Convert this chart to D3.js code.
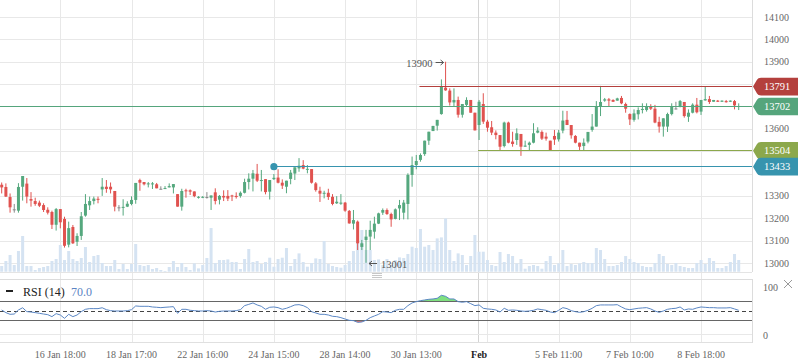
<!DOCTYPE html>
<html><head><meta charset="utf-8">
<script src="https://cdn.jsdelivr.net/npm/d3@7"></script>
<style>body{margin:0;background:#fff}svg{display:block}text{font-family:"Liberation Serif","Times New Roman",serif}</style>
</head><body><svg id="c" width="798" height="363"></svg>
<script>
// ---- data (one entry per candle, index 0..176) ----
const open=[13350,13340,13295,13240,13234,13341,13355,13286,13277,13270,13259,13238,13228,13171,13241,13197,13082,13161,13095,13121,13212,13258,13277,13287,13329,13341,13341,13322,13249,13248,13252,13264,13282,13371,13362,13352,13352,13352,13332,13332,13338,13338,13308,13252,13325,
13325,13320,13293,13293,13295,13292,13316,13283,13300,13300,13302,13300,13300,13314,13362,13377,13399,13368,13375,
13319,13375,13382,13359,13341,13376,13400,13423,13438,13418,13420,13356,13323,13310,13314,13296,13267,13265,13270,13233,13176,13185,13072,13103,13118,13140,13176,13225,13237,13219,13197,13244,13225,13264,13394,13438,13461,13487,
13547,13590,13614,13666,13784,13771,13718,13729,13663,13707,13729,13672,13617,13711,13632,13607,13583,13572,13523,13628,13543,13550,13577,13520,13528,13538,13583,13586,13565,13547,13568,13553,
13592,13640,13617,13568,13538,13523,13543,13595,13610,13702,13726,13732,13729,13726,13738,13711,13666,13640,13665,13684,13684,13702,13690,13631,13610,13610,13666,13691,13699,13720,13654,13672,13708,13677,13727,13733,13721,13726,13721,13724,13721,13724,13698];
const high=[13360,13356,13311,13264,13357,13389,13380,13317,13292,13279,13267,13249,13234,13246,13241,13207,13185,13170,13133,13228,13308,13297,13297,13297,13380,13371,13360,13322,13259,13285,13276,13298,13358,13377,13362,13362,13362,13358,13343,13344,13356,13353,13308,13332,13332,
13329,13320,13299,13299,13317,13302,13334,13304,13325,13326,13305,13316,13320,13377,13401,13416,13443,13416,13375,
13371,13398,13419,13374,13368,13416,13428,13469,13460,13438,13420,13362,13341,13323,13332,13308,13299,13308,13273,13237,13237,13190,13103,13148,13189,13207,13225,13244,13244,13225,13244,13282,13282,13401,13476,13483,13490,13547,
13587,13613,13640,13821,13900,13781,13781,13744,13711,13741,13729,13672,13729,13759,13640,13635,13593,13572,13632,13632,13587,13602,13577,13547,13543,13625,13607,13593,13583,13547,13595,13595,
13681,13680,13617,13572,13538,13557,13586,13666,13724,13792,13738,13738,13732,13739,13747,13717,13669,13687,13696,13714,13714,13710,13707,13654,13647,13672,13714,13721,13729,13720,13687,13714,13738,13729,13791,13747,13729,13729,13727,13729,13727,13729,13714];
const low=[13311,13295,13225,13225,13225,13279,13267,13252,13256,13250,13228,13217,13152,13145,13155,13069,13070,13085,13076,13103,13207,13237,13262,13267,13300,13314,13311,13231,13231,13212,13250,13258,13265,13323,13347,13338,13331,13334,13329,13331,13338,13311,13252,13234,13292,
13304,13294,13288,13290,13288,13237,13262,13262,13277,13277,13277,13288,13292,13311,13329,13320,13362,13320,13307,
13284,13371,13356,13331,13312,13352,13371,13408,13419,13401,13355,13319,13273,13289,13282,13258,13264,13260,13229,13176,13150,13058,13058,13001,13058,13109,13174,13215,13215,13162,13195,13192,13195,13195,13341,13419,13453,13479,
13528,13590,13592,13663,13770,13704,13699,13650,13650,13699,13672,13593,13550,13622,13587,13572,13553,13505,13517,13535,13520,13528,13479,13520,13505,13535,13580,13550,13547,13505,13528,13543,
13580,13617,13556,13535,13505,13505,13535,13587,13610,13657,13721,13702,13720,13726,13710,13672,13617,13632,13642,13669,13677,13684,13625,13583,13565,13586,13660,13687,13696,13650,13631,13669,13669,13662,13726,13711,13721,13720,13720,13717,13720,13687,13684];
const close=[13338,13297,13249,13240,13340,13389,13297,13279,13264,13256,13237,13225,13171,13241,13182,13077,13156,13088,13121,13209,13264,13277,13288,13283,13341,13331,13329,13252,13249,13251,13265,13282,13358,13359,13352,13356,13356,13334,13332,13335,13344,13353,13252,13322,13322,
13319,13299,13296,13296,13295,13302,13277,13300,13293,13288,13298,13295,13314,13362,13377,13401,13368,13371,13317,
13371,13381,13359,13346,13368,13404,13428,13435,13422,13421,13359,13326,13310,13314,13295,13264,13274,13270,13234,13177,13192,13088,13088,13118,13148,13176,13222,13237,13219,13195,13240,13259,13270,13394,13438,13456,13483,13547,
13587,13613,13640,13789,13772,13718,13729,13663,13711,13729,13672,13593,13721,13632,13605,13583,13572,13520,13628,13538,13532,13580,13520,13525,13538,13580,13592,13556,13556,13505,13552,13583,
13637,13617,13571,13538,13520,13538,13586,13610,13699,13720,13732,13726,13721,13736,13714,13690,13642,13669,13684,13689,13699,13690,13628,13610,13647,13666,13699,13691,13724,13657,13672,13708,13674,13729,13733,13720,13729,13721,13726,13719,13726,13705,13702];
const volume=[5.7,10.7,16.7,6.7,20.7,35.7,5.7,5.7,1.7,3.7,4.7,5.7,10.7,12.7,26.7,11.7,20.7,12.7,10.7,13.7,24.7,9.7,15.7,16.7,8.7,5.7,5.7,11.7,2.7,7.7,2.7,7.7,27.7,6.7,5.7,6.7,2.7,3.7,1.7,0.7,4.7,10.7,4.7,8.7,4.7,
1.7,8.3,3.3,6.7,13.7,43.7,8.7,11.7,11.7,12.3,9.7,9.7,2.7,12.7,22.7,9.7,10.7,7.7,9.7,
14,5,12.7,14,23.7,5.7,12.7,18.3,9.7,5,8.7,13.3,12.7,30.7,7.7,5.7,4.7,4,6.7,10.7,20.7,31.7,41.7,21.7,21.7,11.7,12.3,6.7,12.7,6.7,11.7,14.3,13.7,17.7,25,23.7,42.7,25,
26.7,21.7,33.3,34.3,53.3,21.7,10.7,18.3,16.7,6.7,15.7,36.7,20,20,11.7,6.7,5.7,19.7,9.7,17.7,15.7,8.3,12.7,3,5.7,6.7,5.7,3,10.7,15.7,6.7,8.3,
21.7,5.7,7.7,6.7,8.3,9.7,8.7,8.7,23.7,21.7,12.7,5.7,5.7,6.7,9.7,15.7,12.7,9.7,8.7,5.7,4.7,4.7,8.7,17.7,15.7,7.7,6.7,8.7,5.7,4.7,3.7,3.7,8.7,11.7,7.7,13.7,10.7,3.7,3.7,5.7,9.7,17.7,11.7];
const rsi=[51.4,45.9,42.4,43,51.4,56,48,47.2,45.9,44.5,43,41.7,37.6,43.8,41,34.1,42.4,37.6,41,48,
52.8,54.2,54.2,54.2,56,52,50,49.3,49.3,49.3,50,52,59.7,59,59,59,57.6,57,56.2,57,
57.6,58.3,44.5,52.8,52.8,50.7,50,49.3,49.3,50,49.3,47.2,48.6,49.3,49.3,49.3,50,52,60.4,63,
66,61.8,59,52.8,57,57.6,56.2,52.8,54.9,58.3,61.8,62.4,60.4,56.2,47.9,45.2,42.4,42.4,41,38.3,
37.6,35.5,32.7,30,29.3,25.8,26.5,30,35.5,39,42.4,47.9,47.2,45.9,50.7,52.8,52.8,60.4,66,68.7,
70.7,72.1,73.5,74.2,75.6,81.8,79.7,74.2,74.2,68.7,67.3,68.7,64.5,60.4,61.8,54.9,53.5,52.8,51.4,47.2,
54.9,50.7,51.4,50.7,49.3,48.6,49.3,50.7,53.5,52,50.7,47.2,45.9,50.7,56.2,54.2,50,47.9,46.5,47.9,
50.7,54.9,60.4,61.8,61.8,61.8,61.8,62.4,57.6,53.5,52,53.5,54.9,55.6,56.2,53.5,49.3,46.5,49.3,52.8,
54.2,54.9,57.6,51.4,53.5,52.8,55.6,57.6,56.9,56.2,56.2,55.6,55.6,55.6,56.2,53.5,50.7];
const priceTicks=[13000,13100,13200,13300,13400,13500,13600,13700,13800,13900,14000,14100];
const tickIdx=[14,31,48,65,82,99,116,133,150,167];
const tickLabels=["16 Jan 18:00","18 Jan 17:00","22 Jan 16:00","24 Jan 15:00","28 Jan 14:00","30 Jan 13:00","","5 Feb 11:00","7 Feb 10:00","8 Feb 18:00"];
const monthIdx=[114], monthLabels=["Feb"];
const levelValues=[13791,13702,13504,13433];
const levelStartIdx=[100,null,114,65];
const levelColors=["#b4403d","#55a57c","#8ca84c","#3794ae"];
const rsiTicks=[0,100], rsiLevels=[70,50,30];
const highMark={idx:106,value:13900}, lowMark={idx:87,value:13001};

// ---- scales ----
const svg=d3.select("#c");
const W=752;
const x=d3.scaleLinear().domain([0,176]).range([1.7,1.7+176*4.1876]);
const y=d3.scaleLinear().domain([13000,14100]).range([263,17]);
const vy=d3.scaleLinear().domain([0,100]).range([271.7,171.7]);
const ry=d3.scaleLinear().domain([0,100]).range([334.8,286.5]);
const grid="#e8e8e8";

// horizontal grid main
svg.append("g").selectAll("line").data(priceTicks).join("line")
 .attr("x1",0).attr("x2",W).attr("y1",d=>Math.round(y(d))+0.5).attr("y2",d=>Math.round(y(d))+0.5)
 .attr("stroke",grid);
// vertical grid
svg.append("g").selectAll("line").data(tickIdx).join("line")
 .attr("x1",d=>Math.round(x(d))+0.5).attr("x2",d=>Math.round(x(d))+0.5).attr("y1",0).attr("y2",343)
 .attr("stroke",grid);
svg.append("g").selectAll("line").data(monthIdx).join("line")
 .attr("x1",d=>Math.round(x(d))-0.5).attr("x2",d=>Math.round(x(d))-0.5).attr("y1",0).attr("y2",343)
 .attr("stroke","#d4d4d4");
// borders
svg.append("line").attr("x1",W+0.5).attr("x2",W+0.5).attr("y1",0).attr("y2",272).attr("stroke","#dcdcdc");
svg.append("line").attr("x1",0).attr("x2",W).attr("y1",272.5).attr("y2",272.5).attr("stroke","#e4e4e4");
svg.append("line").attr("x1",0).attr("x2",W).attr("y1",279.5).attr("y2",279.5).attr("stroke","#dcdcdc");
svg.append("line").attr("x1",0).attr("x2",W).attr("y1",342.5).attr("y2",342.5).attr("stroke","#e0e0e0");
svg.append("line").attr("x1",W+0.5).attr("x2",W+0.5).attr("y1",279).attr("y2",343).attr("stroke","#dcdcdc");
svg.append("line").attr("x1",0).attr("x2",W).attr("y1",Math.round(ry(0))-0.5).attr("y2",Math.round(ry(0))-0.5).attr("stroke",grid);

// volume
svg.append("g").selectAll("rect").data(volume).join("rect")
 .attr("x",(d,i)=>x(i)-1.5).attr("width",3).attr("y",d=>vy(d)).attr("height",d=>vy(0)-vy(d))
 .attr("fill","#d5e3f2");

// candles
const col=i=>close[i]>open[i]?"#55a87e":(close[i]<open[i]?"#e0524f":"#8a8a8a");
const cg=svg.append("g");
cg.selectAll("line").data(open).join("line")
 .attr("x1",(d,i)=>x(i)).attr("x2",(d,i)=>x(i)).attr("y1",(d,i)=>y(high[i])).attr("y2",(d,i)=>y(low[i]))
 .attr("stroke",(d,i)=>col(i)).attr("stroke-width",1);
cg.selectAll("rect").data(open).join("rect")
 .attr("x",(d,i)=>x(i)-1.5).attr("width",3)
 .attr("y",(d,i)=>y(Math.max(open[i],close[i])))
 .attr("height",(d,i)=>Math.max(1,Math.abs(y(open[i])-y(close[i]))))
 .attr("fill",(d,i)=>col(i));

// level lines
levelValues.forEach((v,k)=>{
 const xs=levelStartIdx[k]===null?0:x(levelStartIdx[k])-1;
 svg.append("line").attr("x1",xs).attr("x2",W).attr("y1",Math.round(y(v))+0.5).attr("y2",Math.round(y(v))+0.5)
  .attr("stroke",levelColors[k]).attr("stroke-width",1.2);
});
svg.append("circle").attr("cx",x(65)).attr("cy",y(13433)+0.5).attr("r",3.6).attr("fill","#3794ae");

// y axis labels (those hidden behind a level tag are not drawn)
const visibleTicks=priceTicks.filter(t=>levelValues.every(v=>Math.abs(y(t)-y(v))>12));
svg.append("g").selectAll("text").data(visibleTicks).join("text")
 .attr("x",764).attr("y",d=>y(d)).attr("dy","0.35em").attr("font-size",10).attr("fill","#666").text(d=>d);
// tags
levelValues.forEach((v,k)=>{
 const yc=y(v)+0.5, h=8.8;
 svg.append("path").attr("d",`M753,${yc} L757,${yc-h+2} Q758,${yc-h} 761,${yc-h} L798,${yc-h} L798,${yc+h} L761,${yc+h} Q758,${yc+h} 757,${yc+h-2} Z`)
  .attr("fill",levelColors[k]);
 svg.append("text").attr("x",764).attr("y",yc).attr("dy","0.35em").attr("font-size",10.5).attr("fill","#fff").text(v);
});

// high/low annotations
const hx=x(highMark.idx), hy=Math.round(y(highMark.value))+0.5;
svg.append("text").attr("x",hx-13).attr("y",hy+0.5).attr("dy","0.35em").attr("text-anchor","end")
 .attr("font-size",10.5).attr("fill","#555").text(highMark.value);
svg.append("path").attr("d",`M${hx-10},${hy} L${hx-2},${hy} M${hx-5},${hy-2.5} L${hx-2},${hy} L${hx-5},${hy+2.5}`)
 .attr("fill","none").attr("stroke","#555").attr("stroke-width",1);
const lx=x(lowMark.idx), ly=Math.round(y(lowMark.value))+0.5;
svg.append("path").attr("d",`M${lx+3},${ly} L${lx+11},${ly} M${lx+6},${ly-2.5} L${lx+3},${ly} L${lx+6},${ly+2.5}`)
 .attr("fill","none").attr("stroke","#555").attr("stroke-width",1);
svg.append("text").attr("x",lx+15).attr("y",ly+0.5).attr("dy","0.35em")
 .attr("font-size",10.5).attr("fill","#555").text(lowMark.value);

// drag handle
[273.5,275.5,277.5].forEach(yy=>svg.append("line").attr("x1",372).attr("x2",382).attr("y1",yy).attr("y2",yy).attr("stroke","#c8c8c8"));

// RSI panel
svg.append("clipPath").attr("id","ct").append("rect").attr("x",0).attr("y",279).attr("width",W).attr("height",ry(70)-279);
svg.append("clipPath").attr("id","cb").append("rect").attr("x",0).attr("y",ry(30)).attr("width",W).attr("height",343-ry(30));
svg.append("path").datum(rsi).attr("clip-path","url(#ct)").attr("fill","#7fe07f")
 .attr("d",d3.area().x((d,i)=>x(i)).y0(ry(70)).y1(d=>ry(d)));
svg.append("path").datum(rsi).attr("clip-path","url(#cb)").attr("fill","#e0706c")
 .attr("d",d3.area().x((d,i)=>x(i)).y0(ry(30)).y1(d=>ry(d)));
rsiLevels.forEach(v=>{
 svg.append("line").attr("x1",0).attr("x2",W).attr("y1",Math.round(ry(v))+0.5).attr("y2",Math.round(ry(v))+0.5)
  .attr("stroke",v===50?"#444":"#666").attr("stroke-dasharray",v===50?"4,3":null);
});
svg.append("path").datum(rsi).attr("fill","none").attr("stroke","#5b87c5").attr("stroke-width",1)
 .attr("d",d3.line().x((d,i)=>x(i)).y(d=>ry(d)));
svg.append("g").selectAll("text").data(rsiTicks).join("text")
 .attr("x",763).attr("y",d=>ry(d)+1).attr("dy","0.35em").attr("font-size",10).attr("fill","#666").text(d=>d);
// close icon
svg.append("path").attr("d","M784,280 L792,288 M792,280 L784,288").attr("stroke","#999").attr("stroke-width",1);
// legend
svg.append("rect").attr("x",6).attr("y",290).attr("width",7).attr("height",2).attr("fill","#222");
svg.append("text").attr("x",23).attr("y",291.5).attr("dy","0.35em").attr("font-size",12).attr("fill","#222").text("RSI (14)");
svg.append("text").attr("x",71).attr("y",291.5).attr("dy","0.35em").attr("font-size",12).attr("fill","#5b84c4").text("70.0");

// x axis labels
svg.append("g").selectAll("text").data(tickIdx).join("text")
 .attr("x",d=>x(d)).attr("y",354.5).attr("dy","0.35em").attr("text-anchor","middle")
 .attr("font-size",10).attr("fill","#666").text((d,i)=>tickLabels[i]);
svg.append("g").selectAll("text").data(monthIdx).join("text")
 .attr("x",d=>x(d)).attr("y",354.5).attr("dy","0.35em").attr("text-anchor","middle")
 .attr("font-size",10).attr("font-weight","bold").attr("fill","#222").text((d,i)=>monthLabels[i]);
</script></body></html>
